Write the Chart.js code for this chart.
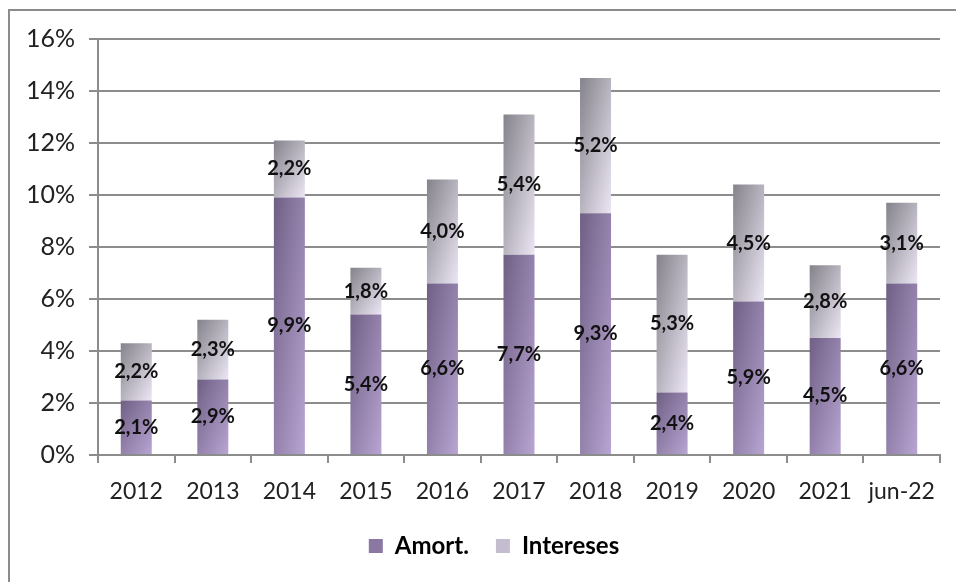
<!DOCTYPE html>
<html>
<head>
<meta charset="utf-8">
<script src="https://cdn.jsdelivr.net/npm/chart.js@4.4.1/dist/chart.umd.min.js"></script>
<style>
html,body{margin:0;padding:0;background:#fff;overflow:hidden;width:956px;height:582px;}
#frame{position:absolute;left:8px;top:9px;width:1000px;height:620px;border:2px solid #8c8c8c;box-sizing:border-box;}
#c{position:absolute;left:0;top:0;}
</style>
</head>
<body>
<div id="frame"></div>
<canvas id="c" width="956" height="582"></canvas>
<script>
const categories = ['2012','2013','2014','2015','2016','2017','2018','2019','2020','2021','jun-22'];
const amort = [2.1, 2.9, 9.9, 5.4, 6.6, 7.7, 9.3, 2.4, 5.9, 4.5, 6.6];
const intereses = [2.2, 2.3, 2.2, 1.8, 4.0, 5.4, 5.2, 5.3, 4.5, 2.8, 3.1];
const seriesNames = ['Amort.', 'Intereses'];
const yTicksMax = 16;
const yTicksStep = 2;

const FONT = 'Lato, "Liberation Sans", sans-serif';
const BAR_PCT = 0.405;
const palette = [
  ['#6f5f84', '#b8a5d3'],
  ['#84828a', '#ece6f4']
];
const legendSolid = ['#8a78a3', '#c4bdcf'];

function barFill(ctx) {
  const chart = ctx.chart;
  const xs = chart.scales.x, ys = chart.scales.y;
  const ds = ctx.datasetIndex, i = ctx.dataIndex;
  if (!xs || !ys || i === undefined) return palette[ds][0];
  const cx = xs.getPixelForValue(i);
  const w = (xs.width / categories.length) * BAR_PCT;
  const lo = ds === 0 ? 0 : amort[i];
  const hi = ds === 0 ? amort[i] : amort[i] + intereses[i];
  const top = ys.getPixelForValue(hi), bot = ys.getPixelForValue(lo);
  const left = cx - w / 2;
  const h = Math.max(bot - top, 1);
  const k = 2 * w * h / (w * w + h * h);
  const g = chart.ctx.createLinearGradient(left, top, left + h * k, top + w * k);
  g.addColorStop(0, palette[ds][0]);
  g.addColorStop(1, palette[ds][1]);
  return g;
}

const labelPlugin = {
  id: 'segLabels',
  afterLayout(chart) {
    const lg = chart.legend;
    if (lg) { lg.left += 24; lg.right += 24; }
  },
  afterDatasetsDraw(chart) {
    const c = chart.ctx;
    c.save();
    c.font = 'bold 20px ' + FONT;
    c.fillStyle = '#111';
    c.textAlign = 'center';
    c.textBaseline = 'middle';
    chart.data.datasets.forEach((ds, di) => {
      const meta = chart.getDatasetMeta(di);
      meta.data.forEach((el, i) => {
        const v = ds.data[i];
        const t = v.toFixed(1).replace('.', ',') + '%';
        c.fillText(t, el.x, (el.y + el.base) / 2);
      });
    });
    c.restore();
  }
};

new Chart(document.getElementById('c'), {
  type: 'bar',
  data: {
    labels: categories,
    datasets: [
      { label: seriesNames[0], data: amort, backgroundColor: barFill, borderWidth: 0 },
      { label: seriesNames[1], data: intereses, backgroundColor: barFill, borderWidth: 0 }
    ]
  },
  options: {
    responsive: false,
    animation: false,
    devicePixelRatio: 1,
    layout: { padding: { left: 0, right: 16, top: 39, bottom: 14 } },
    datasets: { bar: { barPercentage: BAR_PCT, categoryPercentage: 1 } },
    plugins: {
      tooltip: { enabled: false },
      legend: {
        position: 'bottom',
        labels: {
          font: { family: FONT, size: 24, weight: 'bold' },
          color: '#111',
          boxWidth: 14,
          boxHeight: 14,
          padding: 27,
          generateLabels: (chart) => chart.data.datasets.map((d, i) => ({
            text: d.label, fillStyle: legendSolid[i], strokeStyle: 'rgba(0,0,0,0)', lineWidth: 0, datasetIndex: i
          }))
        }
      }
    },
    scales: {
      x: {
        stacked: true,
        afterFit: (s) => { s.height = 52; },
        grid: { display: true, drawOnChartArea: false, drawTicks: true, tickLength: 8, color: '#8c8c8c', lineWidth: 2, offset: true },
        border: { display: true, color: '#8c8c8c', width: 2 },
        ticks: { font: { family: FONT, size: 23 }, color: '#222', padding: 15, maxRotation: 0 }
      },
      y: {
        stacked: true,
        min: 0,
        max: yTicksMax,
        afterFit: (s) => { s.width = 98; },
        grid: { color: '#8c8c8c', lineWidth: 2, tickLength: 9 },
        border: { display: true, color: '#8c8c8c', width: 2 },
        ticks: { stepSize: yTicksStep, font: { family: FONT, size: 25 }, color: '#222', padding: 14,
          callback: (v) => v + '%' }
      }
    }
  },
  plugins: [labelPlugin]
});
</script>
</body>
</html>
